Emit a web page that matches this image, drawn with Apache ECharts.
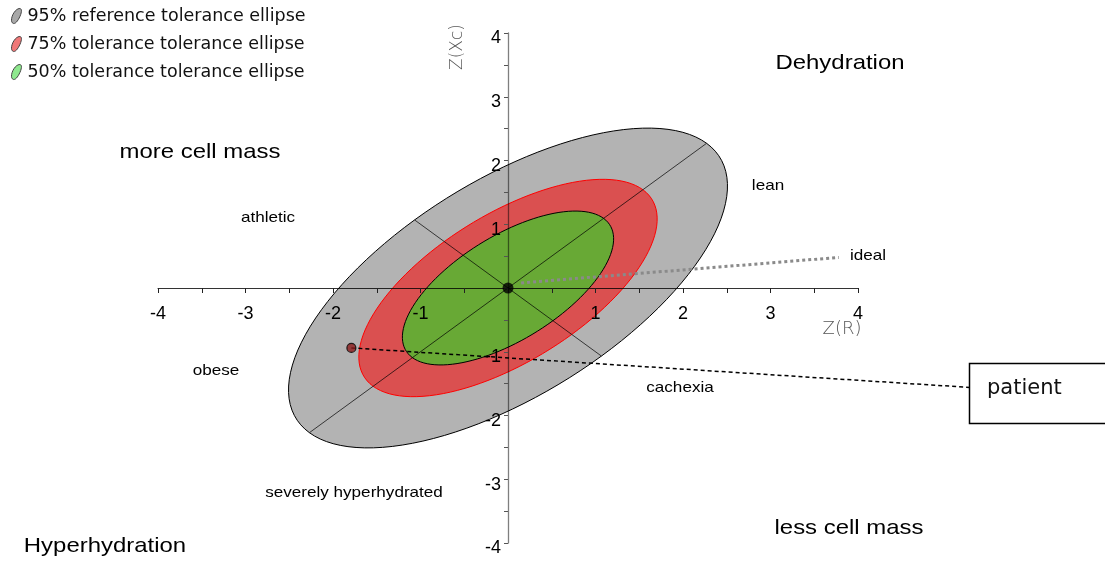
<!DOCTYPE html>
<html>
<head>
<meta charset="utf-8">
<script src="https://cdn.jsdelivr.net/npm/echarts@6/dist/echarts.min.js"></script>
<style>html,body{margin:0;padding:0;background:#fff}#c{width:1105px;height:561px}</style>
</head>
<body>
<div id="c"></div>
<script>
// ---- data ----
const ellipseNames = ['95% reference tolerance ellipse', '75% tolerance tolerance ellipse', '50% tolerance tolerance ellipse'];
const semiMajor = [3.21, 2.18, 1.545];   // along Z(R)=Z(Xc) direction
const semiMinor = [1.51, 1.03, 0.726];   // perpendicular direction
const centerPoint = [[0, 0]];
const patientPoint = [[-1.79, -0.94]];
const patientLeader = [[-1.79, -0.94], [5.28, -1.56]];
const idealLine = [[0.15, 0.08], [3.78, 0.48]];
const axisTicks = [-4, -3, -2, -1, 0, 1, 2, 3, 4];
const regionLabels = ['Dehydration', 'more cell mass', 'Hyperhydration', 'less cell mass'];
const typeLabels = ['lean', 'athletic', 'ideal', 'obese', 'cachexia', 'severely hyperhydrated'];
const patientLabel = 'patient';
const axisNames = ['Z(R)', 'Z(Xc)'];

// ---- styles ----
const fills = ['#b3b3b3', '#da5050', '#68a935'];
const borders = ['#000000', '#ff0000', '#000000'];
const legendFills = ['#a8a8a8', '#f07878', '#8ee88e'];
const S2 = Math.SQRT2;

const GRID = { left: 158, top: 33, width: 700, height: 510 };

function ellipseRender(idx) {
  return function (params, api) {
    const a = semiMajor[idx], b = semiMinor[idx];
    const pts = [];
    const N = 120;
    for (let i = 0; i < N; i++) {
      const t = 2 * Math.PI * i / N;
      const u = a * Math.cos(t), v = b * Math.sin(t);
      pts.push(api.coord([(u + v) / S2, (u - v) / S2]));
    }
    return {
      type: 'polygon',
      shape: { points: pts },
      style: { fill: fills[idx], stroke: borders[idx], lineWidth: 1 }
    };
  };
}

function axesRender(params, api) {
  const a = semiMajor[0] / S2, b = semiMinor[0] / S2;
  const p1 = api.coord([-a, -a]), p2 = api.coord([a, a]);
  const q1 = api.coord([-b, b]), q2 = api.coord([b, -b]);
  return {
    type: 'group',
    children: [
      { type: 'line', shape: { x1: p1[0], y1: p1[1], x2: p2[0], y2: p2[1] }, style: { stroke: 'rgba(0,0,0,0.7)', lineWidth: 1 } },
      { type: 'line', shape: { x1: q1[0], y1: q1[1], x2: q2[0], y2: q2[1] }, style: { stroke: 'rgba(0,0,0,0.7)', lineWidth: 1 } }
    ]
  };
}

function segmentRender(pts, stroke, width, dash) {
  return function (params, api) {
    const p = api.coord(pts[0]), q = api.coord(pts[1]);
    return {
      type: 'line',
      shape: { x1: p[0], y1: p[1], x2: q[0], y2: q[1] },
      style: { stroke: stroke, lineWidth: width, lineDash: dash }
    };
  };
}

const legendIcon = 'path://M2,14 C0,12 2,5 6,2 C9,0 11,1 10,5 C9,9 6,14 4,14.5 C3,14.8 2.5,14.5 2,14 Z';

const chart = echarts.init(document.getElementById('c'), null, { renderer: 'canvas' });

const annFont = 'Liberation Sans, Arial, sans-serif';
function ann(text, x, y, size, scaleX) {
  return {
    type: 'text', x: x, y: y, scaleX: scaleX || 1.14, z: 100,
    style: { text: text, fontSize: size, fontFamily: annFont, fill: '#000', align: 'center', verticalAlign: 'middle' }
  };
}

const xMin = axisTicks[0], xMax = axisTicks[axisTicks.length - 1];
// offsets that bring each axis onto the other's zero
const xAxisOffset = -GRID.height * (0 - xMin) / (xMax - xMin);
const yAxisOffset = -GRID.width * (0 - xMin) / (xMax - xMin);

const option = {
  animation: false,
  backgroundColor: '#ffffff',
  grid: { left: GRID.left, top: GRID.top, width: GRID.width, height: GRID.height, containLabel: false, outerBoundsMode: 'none' },
  legend: {
    orient: 'vertical', left: 6, top: 2, itemWidth: 12, itemHeight: 15, itemGap: 10,
    selectedMode: false,
    textStyle: { fontSize: 17.5, fontFamily: 'DejaVu Sans, sans-serif', color: '#111' },
    data: ellipseNames.map((n, i) => ({ name: n, icon: legendIcon, itemStyle: { color: legendFills[i], borderColor: '#444', borderWidth: 1 } }))
  },
  xAxis: {
    type: 'value', min: xMin, max: xMax, interval: 1, z: 10, position: 'bottom', offset: xAxisOffset,
    axisLine: { onZero: false, lineStyle: { color: 'rgba(0,0,0,0.8)', width: 1 } },
    axisTick: { show: true, length: 5, lineStyle: { color: '#222' } },
    minorTick: { show: true, splitNumber: 2, length: 5, lineStyle: { color: '#222' } },
    splitLine: { show: false },
    axisLabel: { margin: 17, fontSize: 18, fontFamily: annFont, color: '#000', formatter: v => (v === 0 ? '' : String(v)) }
  },
  yAxis: {
    type: 'value', min: xMin, max: xMax, interval: 1, z: 10, position: 'left', offset: yAxisOffset,
    axisLine: { onZero: false, lineStyle: { color: 'rgba(0,0,0,0.5)', width: 1.3 } },
    axisTick: { show: true, length: 4, lineStyle: { color: '#555' } },
    minorTick: { show: true, splitNumber: 2, length: 4, lineStyle: { color: '#555' } },
    splitLine: { show: false },
    axisLabel: { margin: 7, fontSize: 18, fontFamily: annFont, color: '#000', verticalAlign: 'top', lineHeight: 11, formatter: v => (v === 0 ? '' : String(v)) }
  },
  series: [
    { name: ellipseNames[0], type: 'custom', renderItem: ellipseRender(0), data: centerPoint, z: 1, silent: true, itemStyle: { color: legendFills[0] } },
    { name: ellipseNames[1], type: 'custom', renderItem: ellipseRender(1), data: centerPoint, z: 1, silent: true, itemStyle: { color: legendFills[1] } },
    { name: ellipseNames[2], type: 'custom', renderItem: ellipseRender(2), data: centerPoint, z: 1, silent: true, itemStyle: { color: legendFills[2] } },
    { name: 'axes', type: 'custom', renderItem: axesRender, data: centerPoint, z: 3, silent: true },
    { name: 'ideal', type: 'custom', renderItem: segmentRender(idealLine, '#8a8a8a', 3, [3, 3]), data: centerPoint, z: 4, clip: false, silent: true },
    { name: 'patientLine', type: 'custom', renderItem: segmentRender(patientLeader, '#000', 1.5, [4, 3]), data: centerPoint, z: 4, clip: false, silent: true },
    { name: 'center', type: 'scatter', data: centerPoint, symbolSize: 11, z: 20, itemStyle: { color: '#000' } },
    { name: 'patient', type: 'scatter', data: patientPoint, symbolSize: 9, z: 20, itemStyle: { color: '#8b1a1a', borderColor: '#000', borderWidth: 1.2 } }
  ],
  graphic: [
    ann(regionLabels[0], 840, 63, 21),
    ann(regionLabels[1], 200, 152, 21),
    ann(regionLabels[2], 105, 546, 21),
    ann(regionLabels[3], 849, 528, 21),
    ann(typeLabels[0], 768, 186, 15),
    ann(typeLabels[1], 268, 218, 15),
    ann(typeLabels[2], 868, 256, 15),
    ann(typeLabels[3], 216, 371, 15),
    ann(typeLabels[4], 680, 388, 15),
    ann(typeLabels[5], 354, 493, 15),
    { type: 'rect', x: 969.5, y: 363.5, z: 100, shape: { width: 140, height: 60 }, style: { fill: '#fff', stroke: '#000', lineWidth: 1.5 } },
    { type: 'text', x: 987, y: 389, z: 101, style: { text: patientLabel, fontSize: 21, fontFamily: 'DejaVu Sans, sans-serif', fill: '#111', align: 'left', verticalAlign: 'middle' } },
    { type: 'text', x: 842, y: 329, z: 100, style: { text: axisNames[0], fontSize: 18, fontFamily: "'DejaVu Sans ExtraLight', 'DejaVu Sans', sans-serif", fontWeight: 200, fill: '#555', align: 'center', verticalAlign: 'middle' } },
    { type: 'text', x: 458, y: 47, rotation: Math.PI / 2, z: 100, style: { text: axisNames[1], fontSize: 17, fontFamily: "'DejaVu Sans ExtraLight', 'DejaVu Sans', sans-serif", fontWeight: 200, fill: '#555', align: 'center', verticalAlign: 'middle' } }
  ]
};
chart.setOption(option);
</script>
</body>
</html>
